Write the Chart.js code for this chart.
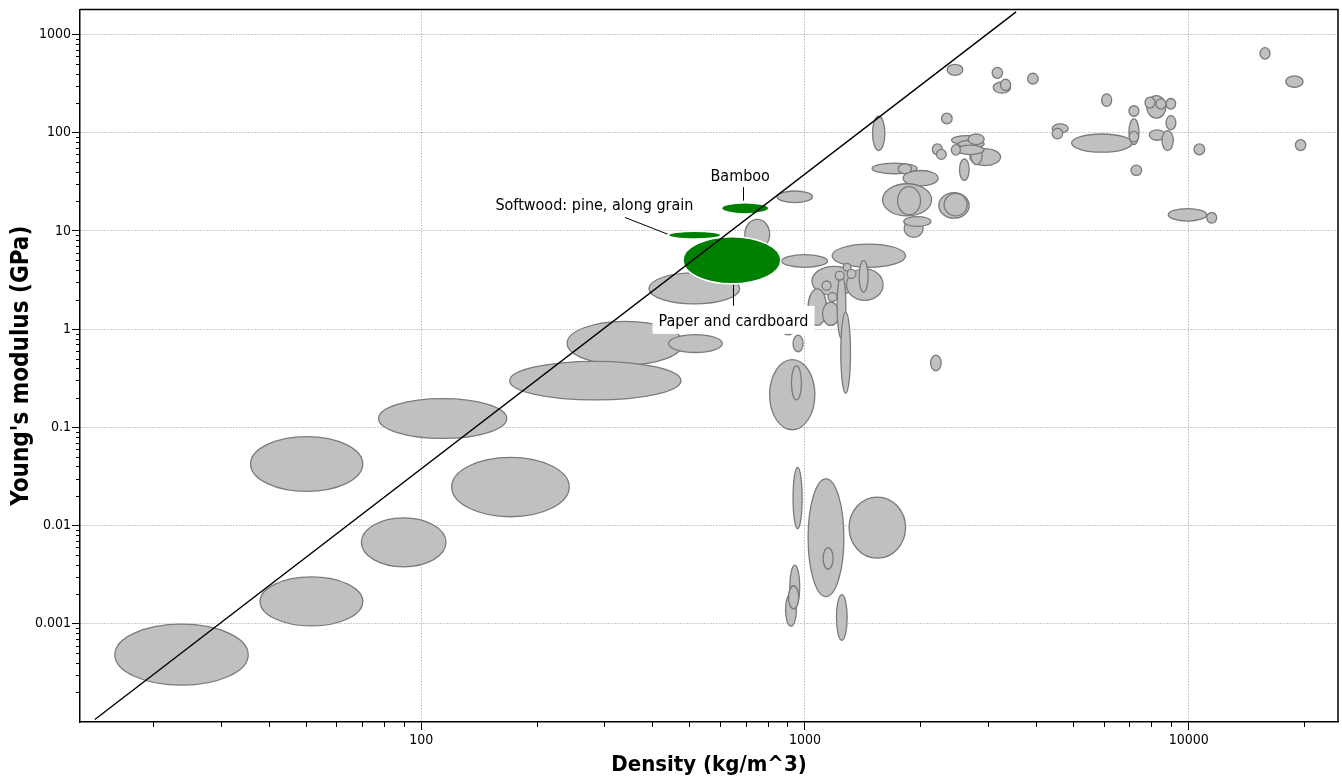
<!DOCTYPE html>
<html>
<head>
<meta charset="utf-8">
<script src="https://cdn.jsdelivr.net/npm/chart.js@4.4.0/dist/chart.umd.min.js"></script>
<style>
  html, body { margin: 0; padding: 0; background: #fff; }
</style>
</head>
<body>
<canvas id="chart" width="1342" height="783"></canvas>
<script>
// axis ranges and labelled ticks
const densityMin = 12.9, densityMax = 24500;
const modulusMin = 0.0001, modulusMax = 1800;
const densityTickLabels = [100, 1000, 10000];
const modulusTickLabels = [0.001, 0.01, 0.1, 1, 10, 100, 1000];

// grey material envelopes: density range (kg/m^3) and Young's modulus range (GPa)
const densityLow = [15.9, 38, 35.9, 69.8, 77.4, 120, 240, 170, 441, 392, 697, 846, 869, 1177,
  1500, 1496, 1749, 1802, 1593, 1743, 1813, 1809, 2233, 2305, 2269, 2148, 2200, 2528,
  2690, 2706, 2410, 2507, 2483, 2407, 2663, 2347, 3094, 3234, 3075, 3804, 5931, 4409, 4409,
  4953, 6987, 6987, 7000, 7071, 7773, 7694, 8219, 8727, 8727, 7896, 8518, 10323, 8847, 11141,
  15342, 17900, 18967, 1043, 1283, 1019, 1111, 1213, 1240, 1384, 1108, 1199, 1258, 1287, 1148,
  880, 931, 809, 922, 931, 1019, 1115, 1303, 890, 913, 906, 1208, 2125];
const densityHigh = [35.4, 70.4, 70.4, 116, 167, 243, 481, 475, 609, 676, 809, 1046, 1145, 1829,
  1615, 1960, 1895, 2224, 2138, 2001, 2032, 2129, 2679, 2647, 2419, 2280, 2335, 2679,
  3234, 2896, 2913, 2931, 2926, 2541, 2931, 2579, 3435, 3435, 3273, 4054, 6299, 4853, 4693,
  7127, 7420, 7420, 7407, 7542, 8727, 8171, 8727, 9250, 9260, 8675, 9117, 11007, 11141, 11832,
  16293, 19870, 20190, 1363, 1598, 1138, 1227, 1278, 1314, 1460, 1169, 1266, 1318, 1358, 1212,
  929, 989, 1061, 979, 983, 1263, 1184, 1829, 950, 969, 963, 1288, 2264];
const modulusLow = [2.37e-4, 9.5e-4, 0.0223, 0.0038, 0.0772, 0.0123, 0.43, 0.19, 0.578, 1.81, 6.5, 19.4, 4.26, 4.26,
  65.8, 38.2, 38.2, 28.7, 14.2, 14.6, 8.58, 11.1, 13.5, 14.2, 123, 59.5, 53.6, 32.7,
  46.3, 47.4, 75.6, 70, 59.9, 59.1, 75.6, 384, 253, 269, 358, 312, 185, 99.4, 86.4,
  63.3, 75.6, 147, 80.5, 36.7, 141, 178, 174, 174, 107, 83.8, 65.8, 59.5, 12.6, 12.0,
  562, 290, 65.8, 2.2, 1.96, 1.09, 1.09, 0.80, 0.222, 2.38, 2.50, 3.16, 3.89, 3.28, 1.91,
  0.873, 0.587, 0.0945, 0.19, 0.0093, 0.00189, 0.00361, 0.00466, 9.46e-4, 0.00144, 0.00142, 6.78e-4, 0.377];
const modulusHigh = [9.9e-4, 0.003, 0.0803, 0.012, 0.196, 0.0495, 1.2, 0.47, 0.879, 3.73, 13.1, 25.5, 5.73, 7.34,
  147, 49, 48.2, 41.2, 30.2, 28.2, 13.2, 14.0, 24.5, 24.1, 158, 76.9, 67.6, 54.2,
  68.9, 72.9, 93.3, 83.8, 74.6, 75.6, 97, 497, 329, 350, 463, 403, 249, 123, 111,
  97, 138, 188, 103, 46.8, 239, 230, 221, 223, 149, 107, 105, 76.9, 16.9, 15.4,
  733, 378, 85, 4.36, 4.10, 2.57, 1.88, 3.65, 1.49, 4.98, 3.09, 3.90, 4.67, 4.05, 2.35,
  1.0, 0.867, 0.49, 0.423, 0.0392, 0.0299, 0.00597, 0.0195, 0.00204, 0.00396, 0.00244, 0.00198, 0.544];

// highlighted materials
const highlightNames = ['Paper and cardboard', 'Softwood: pine, along grain', 'Bamboo'];
const highlightDensityLow = [481, 441, 606];
const highlightDensityHigh = [865, 603, 805];
const highlightModulusLow = [2.89, 8.25, 14.9];
const highlightModulusHigh = [8.72, 9.94, 19.4];

// guide line (E / rho^3 constant)
const guideDensity = [14.1, 3550];
const guideModulus = [1.06e-4, 1700];

const fontFamily = '"DejaVu Sans Condensed", "DejaVu Sans", sans-serif';
const labelFont = '16px ' + fontFamily;
Chart.defaults.font.family = fontFamily;
Chart.defaults.color = '#000';

function logTicks(labels, min, max) {
  const ticks = [];
  for (let e = Math.floor(Math.log10(min)); e <= Math.ceil(Math.log10(max)); e++) {
    for (let m = 1; m <= 9; m++) {
      const v = parseFloat((m * Math.pow(10, e)).toPrecision(8));
      if (v <= min || v >= max) continue;
      const major = labels.some(t => Math.abs(t - v) / t < 1e-9);
      ticks.push({value: v, major: major});
    }
  }
  return ticks;
}

function ellipseGeom(chart, dLo, dHi, eLo, eHi) {
  const xs = chart.scales.x, ys = chart.scales.y;
  const x1 = xs.getPixelForValue(dLo), x2 = xs.getPixelForValue(dHi);
  const y1 = ys.getPixelForValue(eHi), y2 = ys.getPixelForValue(eLo);
  return {cx: (x1 + x2) / 2, cy: (y1 + y2) / 2, rx: Math.abs(x2 - x1) / 2, ry: Math.abs(y2 - y1) / 2};
}

function drawEllipse(ctx, g, fill, stroke, width) {
  ctx.beginPath();
  ctx.ellipse(g.cx, g.cy, g.rx, g.ry, 0, 0, Math.PI * 2);
  ctx.fillStyle = fill;
  ctx.fill();
  ctx.lineWidth = width;
  ctx.strokeStyle = stroke;
  ctx.stroke();
}

const envelopes = {
  id: 'envelopes',
  beforeDatasetsDraw(chart) {
    const ctx = chart.ctx, a = chart.chartArea;
    ctx.save();
    ctx.beginPath();
    ctx.rect(a.left, a.top, a.right - a.left, a.bottom - a.top);
    ctx.clip();
    for (let i = 0; i < densityLow.length; i++) {
      const g = ellipseGeom(chart, densityLow[i], densityHigh[i], modulusLow[i], modulusHigh[i]);
      drawEllipse(ctx, g, '#c0c0c0', '#7a7a7a', 1.3);
    }
    for (let i = highlightNames.length - 1; i >= 0; i--) {
      const g = ellipseGeom(chart, highlightDensityLow[i], highlightDensityHigh[i], highlightModulusLow[i], highlightModulusHigh[i]);
      drawEllipse(ctx, g, '#008000', '#ffffff', 1.5);
    }
    ctx.restore();
  }
};

const labels = {
  id: 'labels',
  afterDatasetsDraw(chart) {
    const ctx = chart.ctx;
    ctx.save();
    ctx.font = labelFont;
    ctx.fillStyle = '#000';
    ctx.strokeStyle = '#000';
    ctx.lineWidth = 1;
    ctx.textAlign = 'center';
    ctx.textBaseline = 'alphabetic';

    const geo = highlightNames.map((n, i) => ellipseGeom(chart, highlightDensityLow[i], highlightDensityHigh[i], highlightModulusLow[i], highlightModulusHigh[i]));

    // paper and cardboard: leader down, boxed label
    let g = geo[0];
    let x = Math.round(g.cx) + 1.5, y0 = g.cy + g.ry + 1, y1 = g.cy + g.ry + 22;
    ctx.beginPath(); ctx.moveTo(x, y0); ctx.lineTo(x, y1); ctx.stroke();
    const w = ctx.measureText(highlightNames[0]).width + 12;
    ctx.fillStyle = '#fff';
    ctx.fillRect(x - w / 2, y1, w, 28);
    ctx.fillStyle = '#000';
    ctx.fillText(highlightNames[0], x, y1 + 20);

    // softwood: leader up-left
    g = geo[1];
    const sx = g.cx - g.rx - 1, sy = g.cy - 1;
    const ex = sx - 42.6, ey = sy - 16.7;
    ctx.beginPath(); ctx.moveTo(sx, sy); ctx.lineTo(ex, ey); ctx.stroke();
    ctx.fillText(highlightNames[1], ex - 30.5, ey - 7.5);

    // bamboo: leader up
    g = geo[2];
    x = Math.round(g.cx - 2.6) + 0.5;
    ctx.beginPath(); ctx.moveTo(x, g.cy - g.ry - 2); ctx.lineTo(x, g.cy - g.ry - 15.5); ctx.stroke();
    ctx.fillText(highlightNames[2], g.cx - 5, g.cy - g.ry - 21.5);
    ctx.restore();
  },
  afterDraw(chart) {
    const ctx = chart.ctx, a = chart.chartArea;
    ctx.save();
    ctx.strokeStyle = '#000';
    ctx.lineWidth = 1.5;
    ctx.beginPath();
    ctx.moveTo(a.left, a.top); ctx.lineTo(a.right, a.top); ctx.lineTo(a.right, a.bottom);
    ctx.stroke();
    // short minor tick marks
    ctx.lineWidth = 1;
    const xs = chart.scales.x, ys = chart.scales.y;
    xs.ticks.forEach(t => {
      if (t.major) return;
      const px = Math.round(xs.getPixelForValue(t.value)) + 0.5;
      ctx.beginPath(); ctx.moveTo(px, a.bottom); ctx.lineTo(px, a.bottom + 5); ctx.stroke();
    });
    ys.ticks.forEach(t => {
      if (t.major) return;
      const py = Math.round(ys.getPixelForValue(t.value)) + 0.5;
      ctx.beginPath(); ctx.moveTo(a.left, py); ctx.lineTo(a.left - 4, py); ctx.stroke();
    });
    ctx.restore();
  }
};

const gridColor = c => (c.tick && c.tick.major) ? '#999999' : 'rgba(0,0,0,0)';
const tickColor = c => (c.tick && c.tick.major) ? '#000' : 'rgba(0,0,0,0)';

new Chart(document.getElementById('chart'), {
  type: 'scatter',
  data: {
    datasets: [{
      data: guideDensity.map((d, i) => ({x: d, y: guideModulus[i]})),
      showLine: true,
      borderColor: '#000',
      borderWidth: 1.4,
      pointRadius: 0,
      fill: false
    }]
  },
  options: {
    responsive: false,
    animation: false,
    events: [],
    devicePixelRatio: 1,
    layout: {padding: {left: 0, top: 6, right: 4, bottom: 0}},
    plugins: {legend: {display: false}, tooltip: {enabled: false}},
    scales: {
      x: {
        type: 'logarithmic',
        min: densityMin,
        max: densityMax,
        afterBuildTicks: s => { s.ticks = logTicks(densityTickLabels, densityMin, densityMax); },
        afterFit: s => { s.height = 61; },
        ticks: {
          autoSkip: false, maxRotation: 0, padding: 2,
          font: {size: 14},
          callback: (v, i, t) => t[i].major ? String(v) : ''
        },
        grid: {color: gridColor, tickColor: tickColor, tickLength: 8, lineWidth: 1},
        border: {display: true, color: '#000', width: 1.5, dash: [1, 2]},
        title: {
          display: true, text: 'Density (kg/m^3)',
          font: {family: fontFamily, size: 22, weight: 'bold'},
          padding: {top: 0, bottom: 5}
        }
      },
      y: {
        type: 'logarithmic',
        min: modulusMin,
        max: modulusMax,
        afterBuildTicks: s => { s.ticks = logTicks(modulusTickLabels, modulusMin, modulusMax); },
        afterFit: s => { s.width = 80; },
        ticks: {
          autoSkip: false, padding: 1,
          font: {size: 14},
          callback: (v, i, t) => t[i].major ? String(v) : ''
        },
        grid: {color: gridColor, tickColor: tickColor, tickLength: 8, lineWidth: 1},
        border: {display: true, color: '#000', width: 1.5, dash: [1, 2]},
        title: {
          display: true, text: "Young's modulus (GPa)",
          font: {family: fontFamily, size: 24, weight: 'bold'},
          padding: {top: 7, bottom: 0}
        }
      }
    }
  },
  plugins: [envelopes, labels]
});
</script>
</body>
</html>
